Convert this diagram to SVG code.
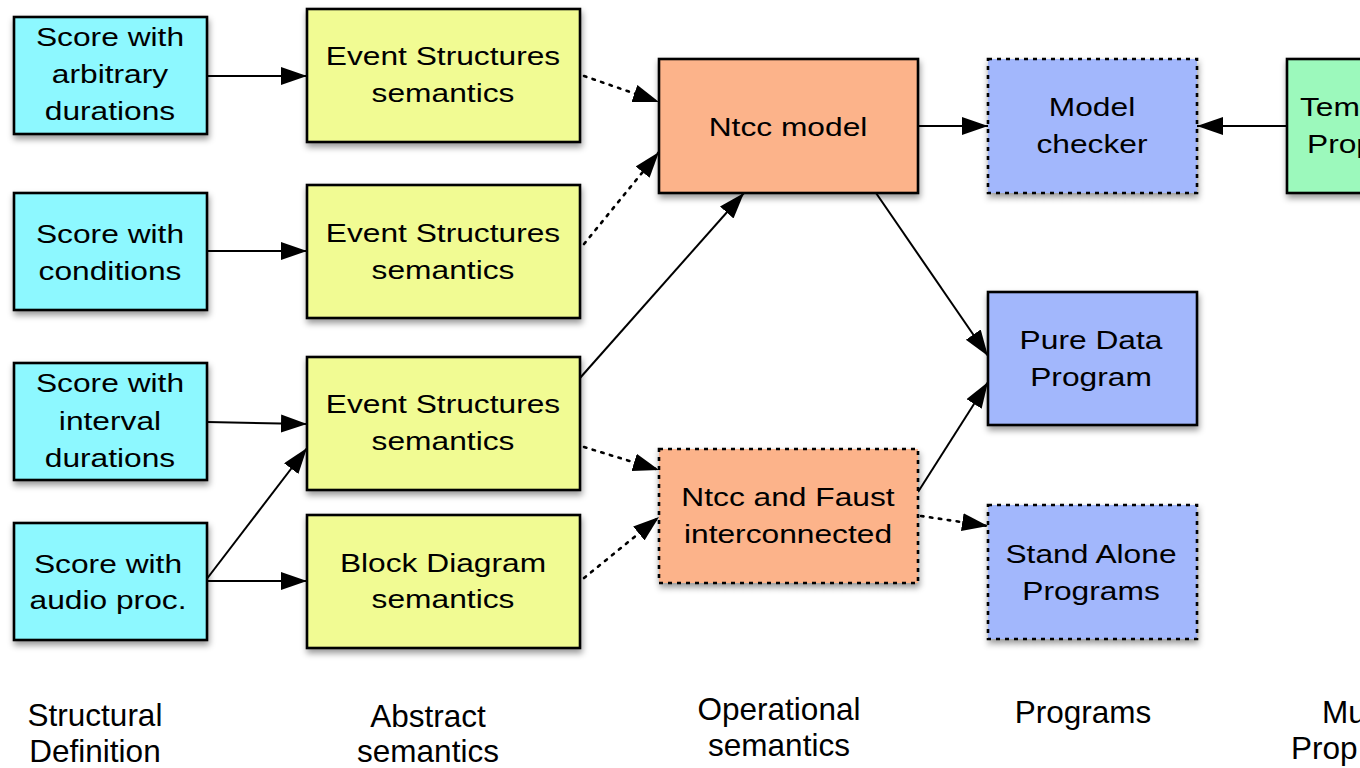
<svg xmlns="http://www.w3.org/2000/svg" width="1360" height="768" viewBox="0 0 1360 768">
<defs>
<filter id="sh" x="-10%" y="-10%" width="130%" height="140%">
<feDropShadow dx="1" dy="4" stdDeviation="3" flood-color="#000" flood-opacity="0.4"/>
</filter>
<marker id="ah" markerUnits="userSpaceOnUse" markerWidth="28" markerHeight="20" refX="26" refY="9" orient="auto">
<path d="M0,0 L26,9 L0,18 z" fill="#000"/>
</marker>
</defs>
<style>
.box{stroke:#000;stroke-width:2.6;filter:url(#sh)}
.dash{stroke-dasharray:4 5}
.cy{fill:#8DF8FF}
.ye{fill:#F1FB93}
.or{fill:#FCB38A}
.bl{fill:#A2B7FC}
.gr{fill:#9CF9BC}
.t{font-family:"Liberation Sans",Arial,sans-serif;font-size:26px;fill:#000;text-anchor:middle}
.ts{font-family:"Liberation Sans",Arial,sans-serif;font-size:26px;fill:#000;text-anchor:start}
.lab{font-family:"Liberation Sans",Arial,sans-serif;font-size:31.5px;fill:#000;text-anchor:middle}
.labs{font-family:"Liberation Sans",Arial,sans-serif;font-size:31.5px;fill:#000;text-anchor:start}
.c{stroke:#000;stroke-width:2;fill:none;marker-end:url(#ah)}
.d{stroke:#000;stroke-width:2.6;fill:none;stroke-dasharray:2.5 6.5;stroke-linecap:round;marker-end:url(#ah)}
</style>
<rect width="1360" height="768" fill="#fff"/>

<g id="connectors">
<line class="c" x1="207" y1="76" x2="307" y2="76"/>
<line class="c" x1="207" y1="251" x2="307" y2="251"/>
<line class="c" x1="207" y1="422" x2="307" y2="424"/>
<line class="c" x1="206" y1="581" x2="307" y2="581"/>
<line class="c" x1="206" y1="580" x2="307" y2="448"/>
<line class="d" x1="584" y1="76" x2="659" y2="102"/>
<line class="d" x1="584" y1="244" x2="659" y2="152"/>
<line class="c" x1="580" y1="378" x2="744" y2="193"/>
<line class="d" x1="584" y1="447" x2="659" y2="470"/>
<line class="d" x1="584" y1="578" x2="659" y2="517"/>
<line class="c" x1="918" y1="126" x2="988" y2="126"/>
<line class="c" x1="1287" y1="126" x2="1197" y2="126"/>
<line class="c" x1="876" y1="193" x2="988" y2="356"/>
<line class="c" x1="918" y1="492" x2="988" y2="382"/>
<line class="d" x1="921" y1="516" x2="988" y2="526"/>
</g>

<g id="score-arbitrary">
<rect class="box cy" x="14" y="17" width="193" height="117"/>
<text class="t" transform="translate(110 0) scale(1.22 1)"><tspan x="0" y="46">Score with</tspan><tspan x="0" y="83">arbitrary</tspan><tspan x="0" y="120">durations</tspan></text>
</g>
<g id="score-conditions">
<rect class="box cy" x="14" y="193" width="193" height="117"/>
<text class="t" transform="translate(110 0) scale(1.22 1)"><tspan x="0" y="243">Score with</tspan><tspan x="0" y="280">conditions</tspan></text>
</g>
<g id="score-interval">
<rect class="box cy" x="14" y="363" width="193" height="117"/>
<text class="t" transform="translate(110 0) scale(1.22 1)"><tspan x="0" y="392">Score with</tspan><tspan x="0" y="430">interval</tspan><tspan x="0" y="467">durations</tspan></text>
</g>
<g id="score-audio">
<rect class="box cy" x="14" y="523" width="193" height="117"/>
<text class="t" transform="translate(108 0) scale(1.22 1)"><tspan x="0" y="573">Score with</tspan><tspan x="0" y="609">audio proc.</tspan></text>
</g>

<g id="es1">
<rect class="box ye" x="307" y="9" width="273" height="133"/>
<text class="t" transform="translate(443 0) scale(1.22 1)"><tspan x="0" y="65">Event Structures</tspan><tspan x="0" y="102">semantics</tspan></text>
</g>
<g id="es2">
<rect class="box ye" x="307" y="185" width="273" height="133"/>
<text class="t" transform="translate(443 0) scale(1.22 1)"><tspan x="0" y="242">Event Structures</tspan><tspan x="0" y="279">semantics</tspan></text>
</g>
<g id="es3">
<rect class="box ye" x="307" y="357" width="273" height="133"/>
<text class="t" transform="translate(443 0) scale(1.22 1)"><tspan x="0" y="413">Event Structures</tspan><tspan x="0" y="450">semantics</tspan></text>
</g>
<g id="block-diagram">
<rect class="box ye" x="307" y="515" width="273" height="133"/>
<text class="t" transform="translate(443 0) scale(1.22 1)"><tspan x="0" y="572">Block Diagram</tspan><tspan x="0" y="608">semantics</tspan></text>
</g>

<g id="ntcc-model">
<rect class="box or" x="659" y="59" width="259" height="134"/>
<text class="t" transform="translate(788 0) scale(1.22 1)"><tspan x="0" y="136">Ntcc model</tspan></text>
</g>
<g id="ntcc-faust">
<rect class="box or dash" x="659" y="449" width="259" height="134"/>
<text class="t" transform="translate(788 0) scale(1.22 1)"><tspan x="0" y="506">Ntcc and Faust</tspan><tspan x="0" y="543">interconnected</tspan></text>
</g>

<g id="model-checker">
<rect class="box bl dash" x="988" y="59" width="209" height="134"/>
<text class="t" transform="translate(1092 0) scale(1.22 1)"><tspan x="0" y="116">Model</tspan><tspan x="0" y="153">checker</tspan></text>
</g>
<g id="pure-data">
<rect class="box bl" x="988" y="292" width="209" height="133"/>
<text class="t" transform="translate(1091 0) scale(1.22 1)"><tspan x="0" y="349">Pure Data</tspan><tspan x="0" y="386">Program</tspan></text>
</g>
<g id="stand-alone">
<rect class="box bl dash" x="988" y="505" width="209" height="134"/>
<text class="t" transform="translate(1091 0) scale(1.22 1)"><tspan x="0" y="563">Stand Alone</tspan><tspan x="0" y="600">Programs</tspan></text>
</g>

<g id="temporal-properties">
<rect class="box gr" x="1287" y="59" width="120" height="134"/>
<text class="ts" transform="translate(1300 0) scale(1.22 1)"><tspan x="0" y="116">Tem</tspan></text>
<text class="ts" transform="translate(1307 0) scale(1.22 1)"><tspan x="0" y="153">Prop</tspan></text>
</g>

<g id="labels">
<text class="lab"><tspan x="95" y="726">Structural</tspan><tspan x="95" y="762">Definition</tspan></text>
<text class="lab"><tspan x="428" y="727">Abstract</tspan><tspan x="428" y="762">semantics</tspan></text>
<text class="lab"><tspan x="779" y="720">Operational</tspan><tspan x="779" y="756">semantics</tspan></text>
<text class="lab"><tspan x="1083" y="723">Programs</tspan></text>
<text class="labs"><tspan x="1322" y="723">Mu</tspan><tspan x="1291" y="759">Prop</tspan></text>
</g>
</svg>
